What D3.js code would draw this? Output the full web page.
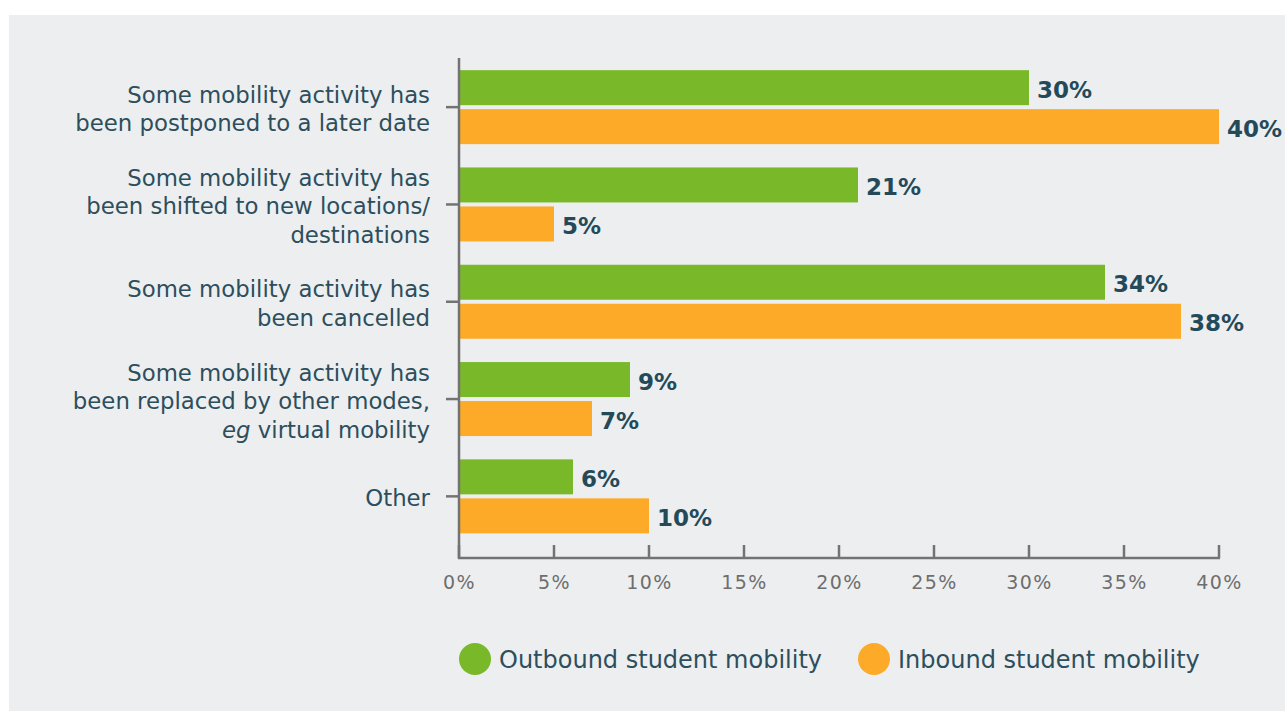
<!DOCTYPE html>
<html><head><meta charset="utf-8">
<script src="https://cdn.jsdelivr.net/npm/d3@7"></script>
<style>
html,body{margin:0;padding:0;background:#fff;}
svg{display:block;}
text{font-family:"DejaVu Sans",sans-serif;}
</style></head>
<body>
<svg id="chart" width="1285" height="711"></svg>
<script>
const categories = [
  ["Some mobility activity has","been postponed to a later date"],
  ["Some mobility activity has","been shifted to new locations/","destinations"],
  ["Some mobility activity has","been cancelled"],
  ["Some mobility activity has","been replaced by other modes,","eg virtual mobility"],
  ["Other"]
];
const outbound = [30, 21, 34, 9, 6];
const inbound = [40, 5, 38, 7, 10];
const seriesNames = ["Outbound student mobility", "Inbound student mobility"];
const colors = ["#79b829", "#fdaa28"];
const xTicks = [0,5,10,15,20,25,30,35,40];

const svg = d3.select("#chart");
svg.append("rect").attr("x",9).attr("y",15).attr("width",1276).attr("height",696).attr("fill","#edeef0");

const x = d3.scaleLinear().domain([0,40]).range([459,1219]);
const y = d3.scaleBand().domain(d3.range(categories.length)).range([58.5,545]);
const textColor = "#2c4e5d";
const axisColor = "#737373";

// bars
const series = [outbound, inbound];
series.forEach((vals, si) => {
  const g = svg.append("g");
  g.selectAll("rect").data(vals).join("rect")
    .attr("x", x(0)+1)
    .attr("y", (d,i) => y(i) + y.bandwidth()/2 + (si===0 ? -37 : 2))
    .attr("width", d => x(d) - x(0) - 1)
    .attr("height", 35)
    .attr("fill", colors[si]);
  g.selectAll("text").data(vals).join("text")
    .attr("x", d => x(d) + 8)
    .attr("y", (d,i) => y(i) + y.bandwidth()/2 + (si===0 ? -17.5 : 21.5))
    .attr("dy","0.35em")
    .attr("font-size", 23).attr("font-weight", 700)
    .attr("fill", "#244a5a")
    .text(d => d + "%");
});

// x axis
const xAxis = d3.axisBottom(x).tickValues(xTicks).tickFormat(d => d + "%").tickSize(0).tickPadding(18);
const gx = svg.append("g").attr("transform","translate(0,558)").call(xAxis);
gx.select(".domain").remove();
gx.selectAll("text").attr("font-size",19).attr("fill","#6e6e6e").attr("font-family","'DejaVu Sans',sans-serif").attr("letter-spacing","1.5px");
svg.append("g").selectAll("line").data(xTicks).join("line")
  .attr("x1", d => x(d)).attr("x2", d => x(d)).attr("y1", 545).attr("y2", 558)
  .attr("stroke", axisColor).attr("stroke-width", 2.5);
svg.append("line").attr("x1", x(0)-1).attr("x2", x(40)+1).attr("y1",558).attr("y2",558).attr("stroke",axisColor).attr("stroke-width",2.5);
// y axis
svg.append("line").attr("x1", x(0)).attr("x2", x(0)).attr("y1",58).attr("y2",559).attr("stroke",axisColor).attr("stroke-width",2.5);
svg.append("g").selectAll("line").data(categories).join("line")
  .attr("x1", 446).attr("x2", x(0))
  .attr("y1", (d,i) => y(i) + y.bandwidth()/2).attr("y2", (d,i) => y(i) + y.bandwidth()/2)
  .attr("stroke", axisColor).attr("stroke-width", 2.5);

// category labels
const lh = 28.5;
const cl = svg.append("g");
categories.forEach((lines, i) => {
  const cy = y(i) + y.bandwidth()/2 + 2;
  const t = cl.append("text").attr("x",430).attr("text-anchor","end")
    .attr("font-size",22.8).attr("fill",textColor);
  lines.forEach((ln, j) => {
    const ty = cy + (j - (lines.length-1)/2) * lh;
    const ts = t.append("tspan").attr("x",430).attr("y",ty).attr("dy","0.35em");
    if (ln.startsWith("eg ")) {
      ts.append("tspan").attr("font-style","italic").text("eg");
      ts.append("tspan").text(" " + ln.slice(3));
    } else ts.text(ln);
  });
});

// legend
const legX = [475, 874];
seriesNames.forEach((n, i) => {
  svg.append("circle").attr("cx",legX[i]).attr("cy",659).attr("r",16).attr("fill",colors[i]);
  svg.append("text").attr("x",legX[i]+24).attr("y",660).attr("dy","0.35em")
    .attr("font-size",24).attr("fill",textColor).text(n);
});
</script>
</body></html>
